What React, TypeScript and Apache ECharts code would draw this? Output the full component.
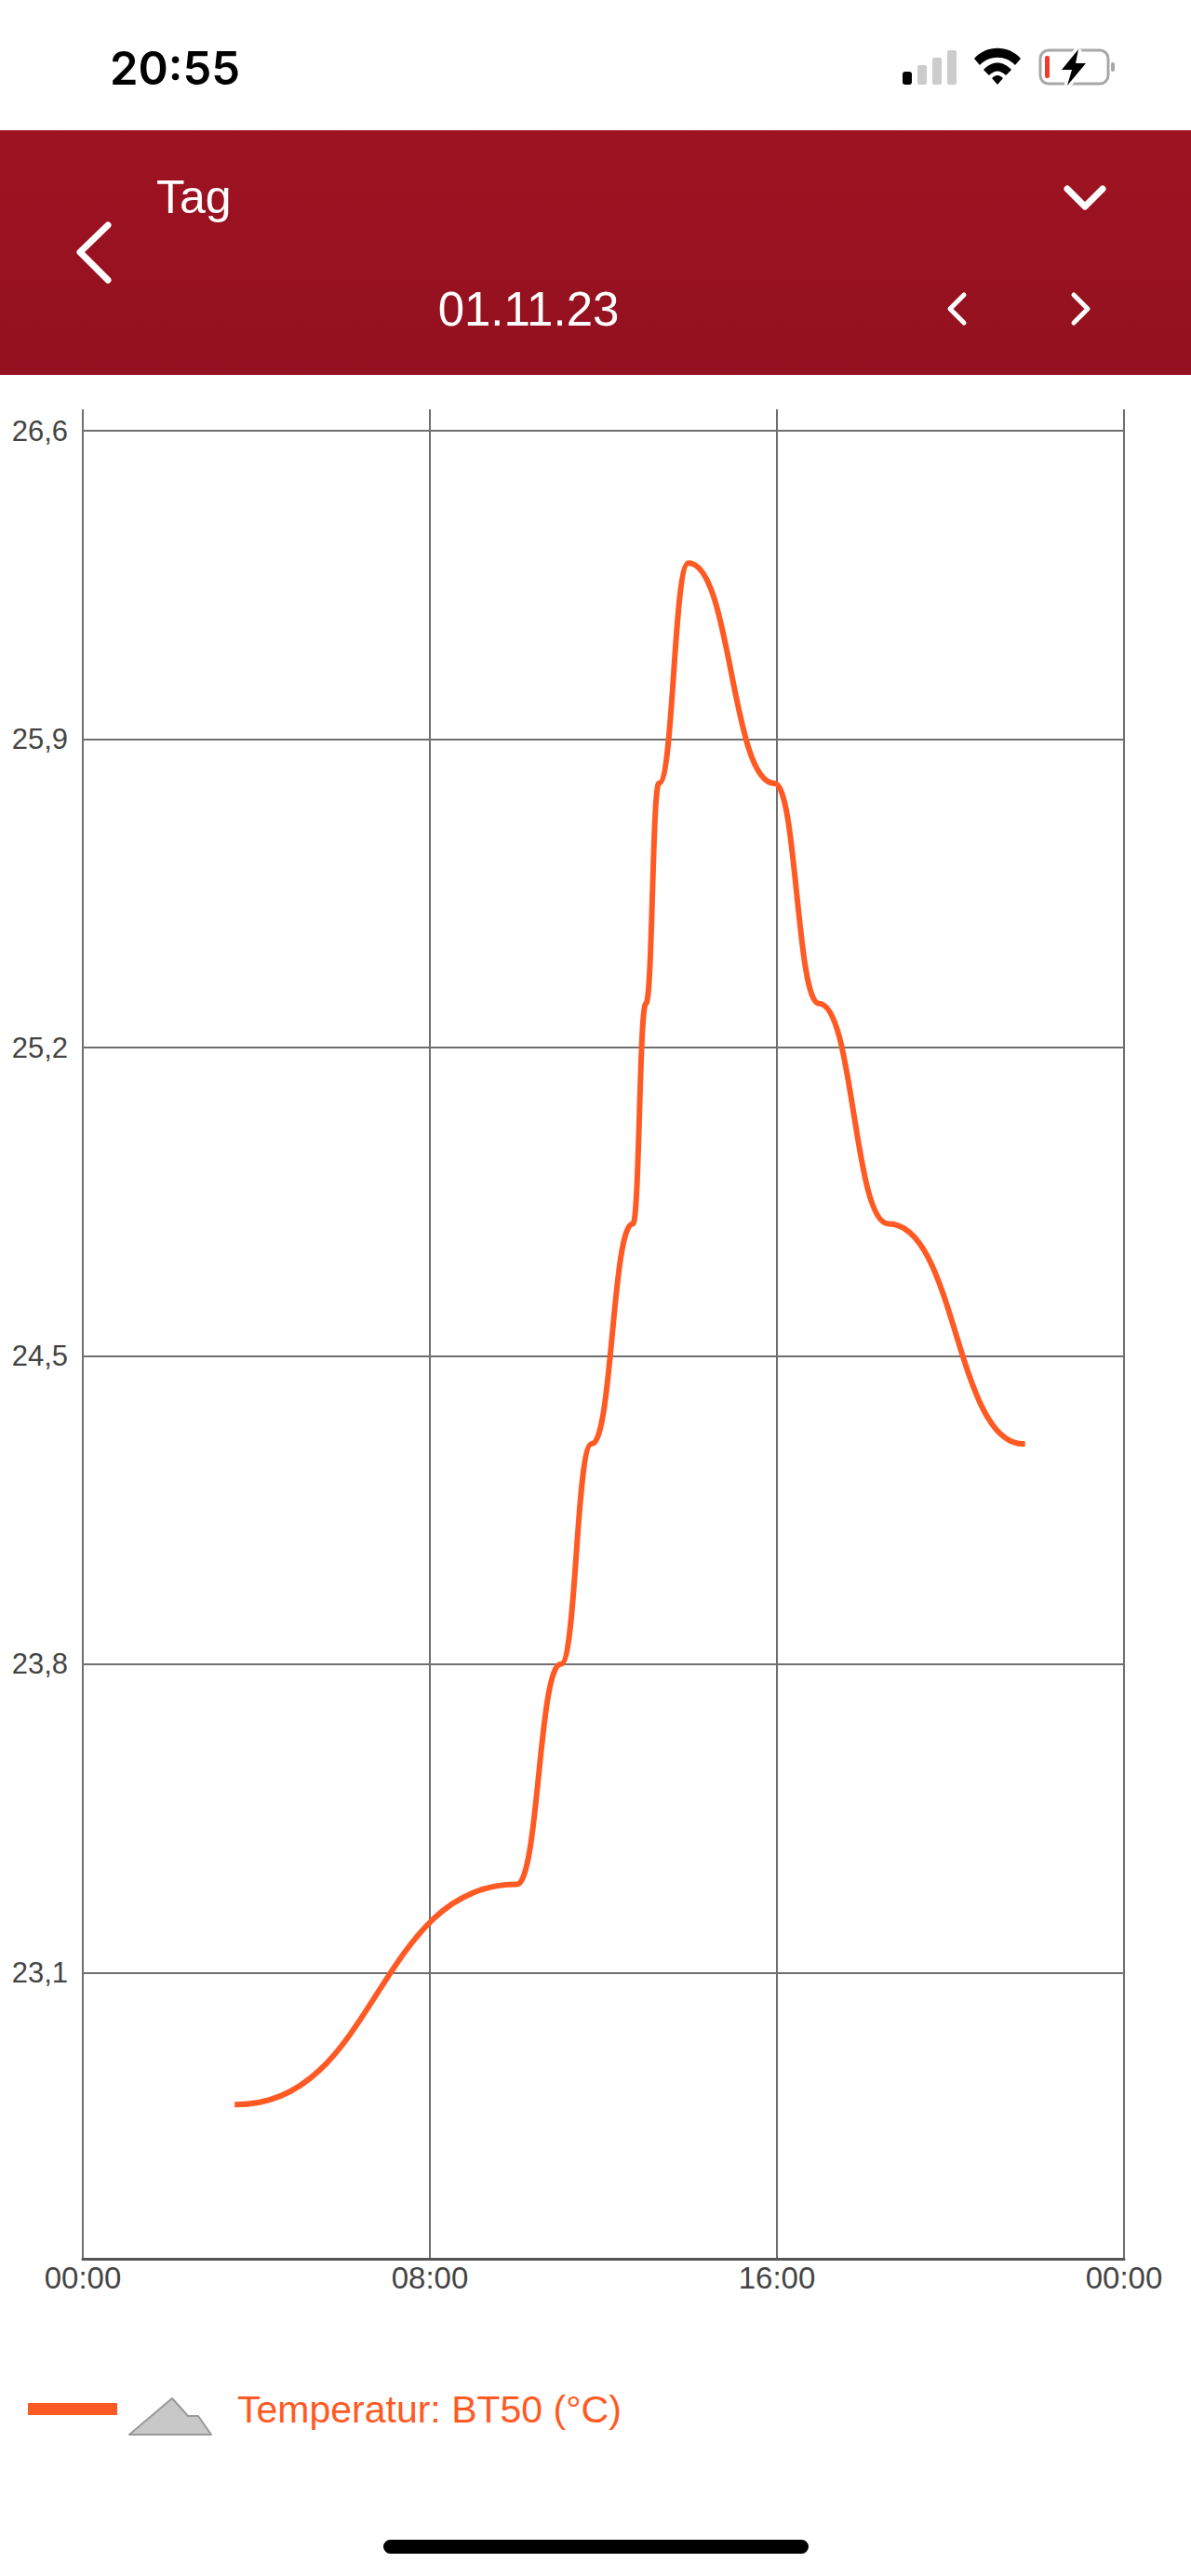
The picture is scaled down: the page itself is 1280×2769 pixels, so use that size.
import React, { useEffect, useRef } from "react";
import * as echarts from "echarts";

const seriesName = "Temperatur: BT50 (°C)";
const hours = [3.5, 3.54, 10.0, 11.02, 11.73, 12.68, 12.98, 13.28, 13.96, 15.94, 16.97, 18.57, 21.68, 21.72];
const temperatures = [22.8, 22.8, 23.3, 23.8, 24.3, 24.8, 25.3, 25.8, 26.3, 25.8, 25.3, 24.8, 24.3, 24.3];
const yTicks = [23.1, 23.8, 24.5, 25.2, 25.9, 26.6];
const xTickLabels = ["00:00", "08:00", "16:00", "00:00"];
const headerTitle = "Tag";
const headerDate = "01.11.23";
const clock = "20:55";

const ORANGE = "#FF5A24";
const FONT = "'Liberation Sans', Arial, sans-serif";

const WIFI_D =
  "M1047 63 C1060 48 1084 48 1097 63 L1091 70 C1081 59 1063 59 1053 70 Z M1057 75 C1066 65 1078 65 1087 75 L1081 81 C1075 75 1069 75 1063 81 Z M1066 84 C1070 80 1074 80 1078 84 L1072 91 Z";
echarts.graphic.registerShape("wifi", echarts.graphic.extendPath(WIFI_D, {}) as any);

const BOLT = [[1159, 53], [1141, 75], [1152, 75], [1147, 92], [1167, 68], [1156, 68]];

export default function App() {
  const ref = useRef<HTMLDivElement>(null);
  useEffect(() => {
    document.body.style.margin = "0";
    const chart = echarts.init(ref.current!, null, { renderer: "svg" });
    const chev = (pts: number[][], w: number) => ({
      type: "polyline",
      shape: { points: pts },
      style: { stroke: "#fff", lineWidth: w, fill: "none", lineCap: "round", lineJoin: "round" },
    });
    chart.setOption({
      animation: false,
      backgroundColor: "#fff",
      textStyle: { fontFamily: FONT },
      grid: { left: 89, right: 72, top: 440, height: 1988 },
      xAxis: {
        type: "value",
        min: 0,
        max: 24,
        interval: 8,
        axisLine: { show: true, onZero: false, lineStyle: { color: "#555", width: 3 } },
        axisTick: { show: false },
        splitLine: { show: true, lineStyle: { color: "#6f6f6f", width: 2 } },
        axisLabel: {
          margin: 4,
          fontSize: 33,
          color: "#444",
          fontFamily: FONT,
          formatter: (v: number) => xTickLabels[v / 8],
        },
      },
      yAxis: {
        type: "value",
        min: 22.45,
        max: 26.649,
        axisLine: { show: false },
        axisTick: { show: false, customValues: yTicks },
        splitLine: { show: true, lineStyle: { color: "#6f6f6f", width: 2 } },
        axisLabel: {
          margin: 16,
          fontSize: 31,
          color: "#444",
          fontFamily: FONT,
          customValues: yTicks,
          formatter: (v: number) => v.toFixed(1).replace(".", ","),
        },
      },
      legend: {
        show: true,
        left: 25,
        top: 2564,
        itemWidth: 96,
        itemHeight: 13,
        icon: "rect",
        data: [{ name: seriesName }],
        textStyle: { color: ORANGE, fontSize: 41, fontFamily: FONT, padding: [0, 0, 2, 124] },
      },
      graphic: [
        { type: "rect", shape: { x: 0, y: 140, width: 1280, height: 263 }, style: { fill: new echarts.graphic.LinearGradient(0, 0, 0, 1, [{ offset: 0, color: "#9E1322" }, { offset: 1, color: "#931120" }]) } },
        { type: "text", x: 168, y: 212, style: { text: headerTitle, fill: "#fff", font: `50px ${FONT}`, textVerticalAlign: "middle" } },
        { type: "text", x: 568, y: 332, style: { text: headerDate, fill: "#fff", font: `51px ${FONT}`, textAlign: "center", textVerticalAlign: "middle" } },
        { type: "text", x: 118, y: 73, style: { text: clock, fill: "#000", font: `600 49px Inter, ${FONT}`, textVerticalAlign: "middle" } },
        chev([[116, 242], [86, 271], [116, 301]], 7),
        chev([[1147, 203], [1166, 222], [1185, 203]], 7),
        chev([[1036, 317], [1021, 332], [1036, 347]], 5),
        chev([[1154, 317], [1169, 332], [1154, 347]], 5),
        { type: "rect", shape: { x: 970, y: 77, width: 10, height: 14, r: 3 }, style: { fill: "#000" } },
        { type: "rect", shape: { x: 986, y: 70, width: 10, height: 21, r: 2 }, style: { fill: "#ccc" } },
        { type: "rect", shape: { x: 1002, y: 62, width: 10, height: 29, r: 2 }, style: { fill: "#ccc" } },
        { type: "rect", shape: { x: 1018, y: 54, width: 10, height: 37, r: 2 }, style: { fill: "#ccc" } },
        { type: "wifi", x: 0, y: 0, style: { fill: "#000" } },
        { type: "rect", shape: { x: 1118, y: 54, width: 73, height: 36, r: 9 }, style: { fill: "none", stroke: "#a8a8a8", lineWidth: 3 } },
        { type: "rect", shape: { x: 1123, y: 60, width: 5, height: 24, r: 2 }, style: { fill: "#F03A2A" } },
        { type: "polygon", shape: { points: BOLT }, style: { fill: "#fff", stroke: "#fff", lineWidth: 7 } },
        { type: "polygon", shape: { points: BOLT }, style: { fill: "#000" } },
        { type: "rect", shape: { x: 1194, y: 67, width: 4, height: 10, r: 2 }, style: { fill: "#a8a8a8" } },
        { type: "polygon", shape: { points: [[139, 2617], [185, 2578], [202, 2597], [213, 2597], [227, 2617]] }, style: { fill: "#C8C8C8", stroke: "#999", lineWidth: 2, lineJoin: "round" } },
        { type: "rect", shape: { x: 412, y: 2730, width: 457, height: 15, r: 7.5 }, style: { fill: "#000" } },
      ],
      series: [
        {
          name: seriesName,
          type: "line",
          data: hours.map((h, i) => [h, temperatures[i]]),
          smooth: 0.5,
          smoothMonotone: "x",
          showSymbol: false,
          symbol: "none",
          itemStyle: { color: ORANGE },
          lineStyle: { color: ORANGE, width: 6 },
        },
      ],
    });
    return () => chart.dispose();
  }, []);
  return <div ref={ref} style={{ position: "absolute", left: 0, top: 0, width: 1280, height: 2769 }} />;
}
